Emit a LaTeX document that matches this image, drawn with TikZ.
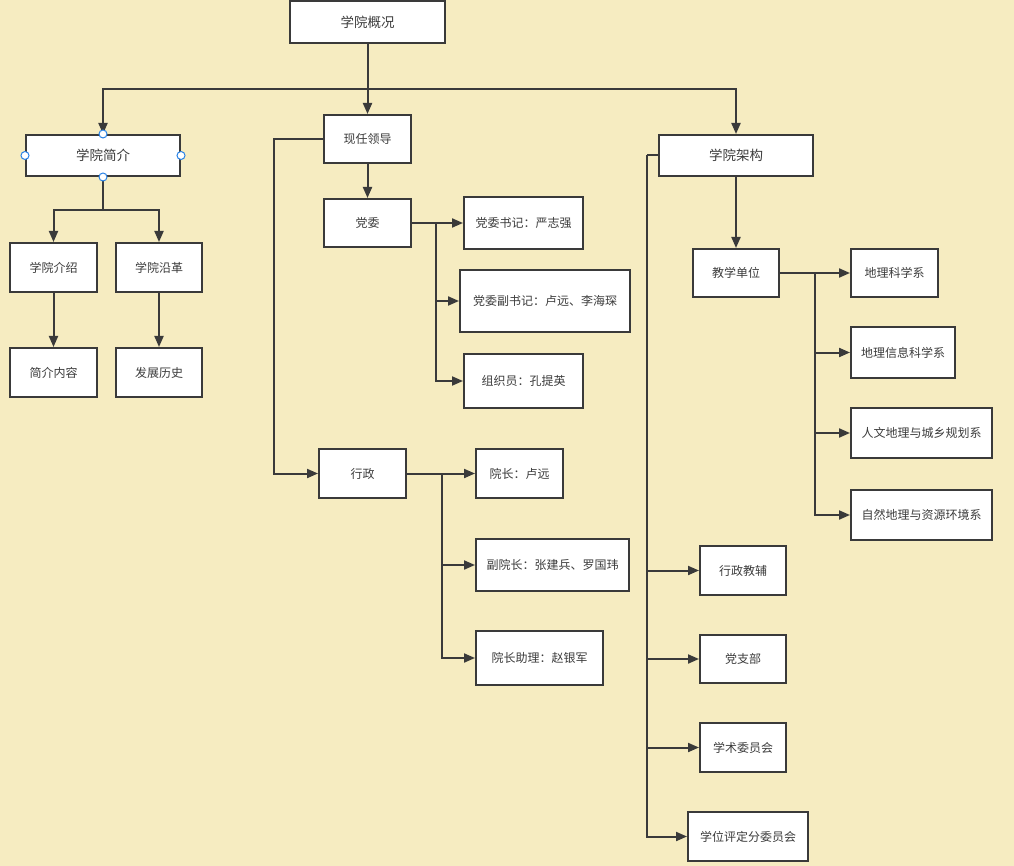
\documentclass[tikz,border=0pt]{standalone}
\usepackage{fontspec}
\setmainfont{Noto Sans CJK SC}
\usetikzlibrary{arrows.meta}
\definecolor{bgc}{RGB}{246,236,193}
\definecolor{ln}{RGB}{58,58,58}
\definecolor{txt}{RGB}{60,60,60}
\definecolor{hnd}{RGB}{40,130,230}
\tikzset{
  box/.style={draw=ln, line width=2pt, fill=white, text=txt, inner sep=0pt,
    font=\fontsize{12pt}{14pt}\selectfont},
  bigbox/.style={box, font=\fontsize{13.5pt}{16pt}\selectfont},
  conn/.style={draw=ln, line width=2pt},
  arr/.style={conn, -{Triangle[length=11pt,width=9pt]}},
  handle/.style={circle, draw=hnd, fill=white, line width=1pt, minimum size=8pt, inner sep=0pt}
}
\begin{document}
\begin{tikzpicture}[x=1pt,y=-1pt]
\fill[bgc] (0,0) rectangle (1014,866);
\useasboundingbox (0,0) rectangle (1014,866);
% boxes
\node[bigbox, minimum width=155pt, minimum height=42pt] (gk) at (367.5,22) {学院概况};
\node[bigbox, minimum width=154pt, minimum height=41pt] (jj) at (103,155.5) {学院简介};
\node[box, minimum width=87pt, minimum height=48pt] (ld) at (367.5,139) {现任领导};
\node[bigbox, minimum width=154pt, minimum height=41pt] (jg) at (736,155.5) {学院架构};
\node[box, minimum width=87pt, minimum height=49pt] (js) at (53.5,267.5) {学院介绍};
\node[box, minimum width=86pt, minimum height=49pt] (yg) at (159,267.5) {学院沿革};
\node[box, minimum width=87pt, minimum height=49pt] (nr) at (53.5,372.5) {简介内容};
\node[box, minimum width=86pt, minimum height=49pt] (ls) at (159,372.5) {发展历史};
\node[box, minimum width=87pt, minimum height=48pt] (dw) at (367.5,223) {党委};
\node[box, minimum width=119pt, minimum height=52pt] (sj) at (523.5,223) {党委书记：严志强};
\node[box, minimum width=170pt, minimum height=62pt] (fsj) at (545,301) {党委副书记：卢远、李海琛};
\node[box, minimum width=119pt, minimum height=54pt] (zzy) at (523.5,381) {组织员：孔提英};
\node[box, minimum width=87pt, minimum height=49pt] (xz) at (362.5,473.5) {行政};
\node[box, minimum width=87pt, minimum height=49pt] (yz) at (519.5,473.5) {院长：卢远};
\node[box, minimum width=153pt, minimum height=52pt] (fyz) at (552.5,565) {副院长：张建兵、罗国玮};
\node[box, minimum width=127pt, minimum height=54pt] (zl) at (539.5,658) {院长助理：赵银军};
\node[box, minimum width=86pt, minimum height=48pt] (jx) at (736,273) {教学单位};
\node[box, minimum width=87pt, minimum height=48pt] (d1) at (894.5,273) {地理科学系};
\node[box, minimum width=104pt, minimum height=51pt] (d2) at (903,352.5) {地理信息科学系};
\node[box, minimum width=141pt, minimum height=50pt] (d3) at (921.5,433) {人文地理与城乡规划系};
\node[box, minimum width=141pt, minimum height=50pt] (d4) at (921.5,515) {自然地理与资源环境系};
\node[box, minimum width=86pt, minimum height=49pt] (xzjf) at (743,570.5) {行政教辅};
\node[box, minimum width=86pt, minimum height=48pt] (dzb) at (743,659) {党支部};
\node[box, minimum width=86pt, minimum height=49pt] (xs) at (743,747.5) {学术委员会};
\node[box, minimum width=120pt, minimum height=49pt] (xw) at (748,836.5) {学位评定分委员会};
% coordinates
\coordinate (tbus) at (367.5,89);
\coordinate (jbus) at (103,210);
\coordinate (lbus) at (274,139);
\coordinate (dbus) at (436,223);
\coordinate (xbus) at (442,473.5);
\coordinate (jxbus) at (815,273);
\coordinate (gbus) at (647,155.5);
% connectors
\draw[arr] (gk.south) -- (ld.north);
\draw[arr] (tbus) -| (jj.north);
\draw[arr] (tbus) -| (jg.north);
\draw[arr] (jj.south) -- (jbus) -| (js.north);
\draw[arr] (jbus) -| (yg.north);
\draw[arr] (js.south) -- (nr.north);
\draw[arr] (yg.south) -- (ls.north);
\draw[arr] (ld.south) -- (dw.north);
\draw[arr] (ld.west) -- (lbus) |- (xz.west);
\draw[arr] (dw.east) -- (sj.west);
\draw[arr] (dbus) |- (fsj.west);
\draw[arr] (dbus) |- (zzy.west);
\draw[arr] (xz.east) -- (yz.west);
\draw[arr] (xbus) |- (fyz.west);
\draw[arr] (xbus) |- (zl.west);
\draw[arr] (jg.south) -- (jx.north);
\draw[arr] (jx.east) -- (d1.west);
\draw[arr] (jxbus) |- (d2.west);
\draw[arr] (jxbus) |- (d3.west);
\draw[arr] (jxbus) |- (d4.west);
\draw[conn] (jg.west) -- (gbus);
\draw[arr] (gbus) |- (xzjf.west);
\draw[arr] (gbus) |- (dzb.west);
\draw[arr] (gbus) |- (xs.west);
\draw[arr] (gbus) |- (xw.west);
% selection handles
\node[handle] (h1) at (jj.north) {};
\node[handle] (h2) at (jj.south) {};
\node[handle] (h3) at (jj.west) {};
\node[handle] (h4) at (jj.east) {};
\end{tikzpicture}
\end{document}
